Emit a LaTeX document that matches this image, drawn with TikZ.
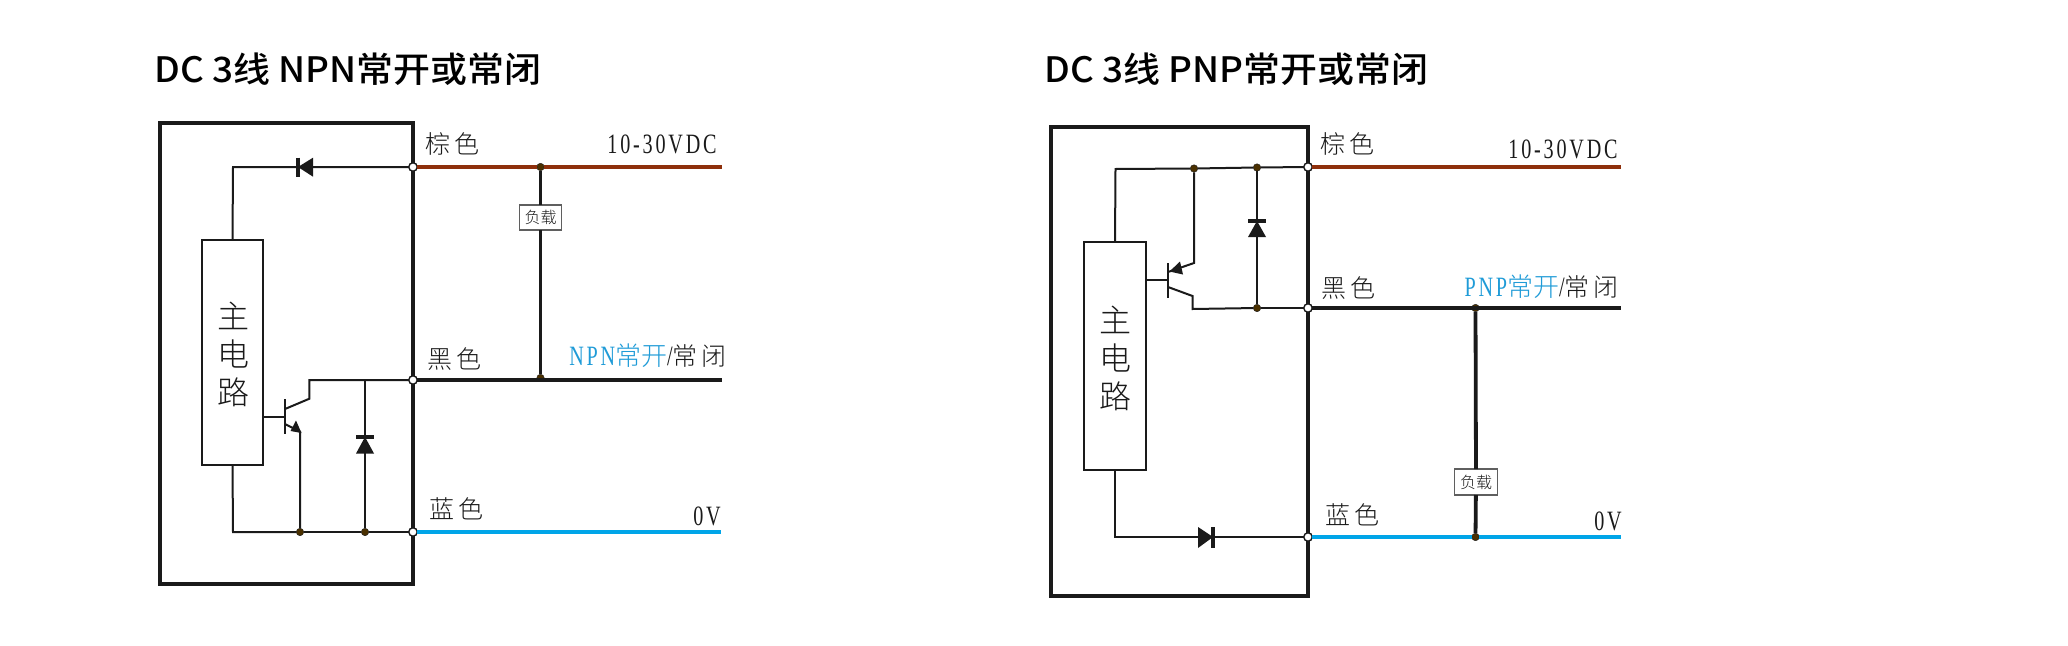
\documentclass[tikz,border=0pt]{standalone}
\usepackage{fontspec}
\newfontfamily\titlef[FakeStretch=1.055]{Noto Sans CJK SC Medium}
\newfontfamily\cjkf[LetterSpace=16]{Noto Sans CJK SC Light}
\newfontfamily\cjkb{Noto Sans CJK SC Light}
\newfontfamily\cjkt{Noto Sans CJK SC Light}
\newfontfamily\latf[FakeStretch=0.72,LetterSpace=10]{Liberation Serif}
\definecolor{brownw}{HTML}{8E2F0B}
\definecolor{bluew}{HTML}{00A5E8}
\definecolor{bluet}{HTML}{1F9BD7}
\definecolor{inkc}{HTML}{1A1A1A}
\definecolor{dotc}{HTML}{4A3000}
\tikzset{
  framebox/.style={draw=inkc,line width=3.8pt,anchor=north west,inner sep=0pt,outer sep=0pt},
  mainbox/.style={draw=inkc,line width=2pt,anchor=north west,inner sep=0pt,outer sep=0pt,fill=white},
  termnode/.style={circle,draw=inkc,fill=white,line width=1.4pt,minimum size=8.5pt,inner sep=0pt,outer sep=0pt},
  jnode/.style={circle,fill=dotc,draw=inkc,line width=0.4pt,minimum size=7.5pt,inner sep=0pt,outer sep=0pt},
  loadbox/.style={draw=inkc!70,line width=1.1pt,fill=white,inner sep=0pt,outer sep=0pt,font=\cjkt\fontsize{16}{16}\selectfont,text=inkc},
  thinw/.style={draw=inkc,line width=2pt},
  hwire/.style={line width=3.8pt},
  loadw/.style={draw=inkc,line width=3.8pt},
  dfill/.style={fill=inkc,draw=none},
  dbar/.style={draw=inkc,line width=3.2pt},
  titlet/.style={inner sep=0pt,anchor=west,font=\titlef\fontsize{35}{35}\selectfont,text=black},
  colt/.style={inner sep=0pt,font=\cjkf\fontsize{25}{25}\selectfont,text=inkc},
  numt/.style={inner sep=0pt,font=\latf\fontsize{28}{28}\selectfont,text=inkc},
  maint/.style={inner sep=0pt,align=center,font=\cjkb\fontsize{32}{38}\selectfont,text=inkc}
}
\begin{document}
\begin{tikzpicture}[x=1pt,y=-1pt]
\useasboundingbox (0,0) rectangle (2068,645);
%%% LEFT
\node[titlet] (t1) at (154,69) {DC 3线 NPN常开或常闭};
\node[framebox,minimum width=253pt,minimum height=461pt] (f1) at (160,123) {};
\node[mainbox,minimum width=61pt,minimum height=225pt] (m1) at (202,240) {};
\node[maint] (mt1) at (233,354) {主\\电\\路};
\node[termnode] (a1) at (413,167) {};
\node[termnode] (a2) at (413,380) {};
\node[termnode] (a3) at (413,532) {};
\node[jnode] (j1) at (540.5,167) {};
\node[jnode] (j2) at (540.5,378) {};
\node[jnode] (j3) at (300,532) {};
\node[jnode] (j4) at (365,532) {};
\coordinate (e1) at (722,167);
\coordinate (e2) at (722,380);
\coordinate (e3) at (721,532);
\node[loadbox,minimum width=42pt,minimum height=25pt] (l1) at (540.5,217.5) {负载};
\draw[hwire,draw=brownw] (a1) -- (j1);
\draw[hwire,draw=brownw] (j1) -- (e1);
\draw[hwire,draw=inkc] (a2) -- (e2);
\draw[hwire,draw=bluew] (a3) -- (e3);
\draw[loadw] (j1) -- (l1);
\draw[loadw] (l1) -- (j2);
% diode and wire to the main box
\coordinate (c1) at (233,167);
\draw[thinw] (m1.north) -- (c1) -- (a1);
\draw[dfill] (298,167) -- (313,157.7) -- (313,176.7) -- cycle;
\draw[dbar] (298,157.7) -- (298,176.7);
% transistor
\coordinate (b1) at (285,417);
\draw[thinw] (m1.east |- b1) -- (b1);
\draw[thinw,line width=2.2pt] (285,399) -- (285,434);
\coordinate (cb1) at (309.4,398.7);
\coordinate (ct1) at (309.4,380);
\draw[thinw] (285,409) -- (cb1) -- (ct1) -- (a2);
\coordinate (eb1) at (300,431.7);
\draw[thinw] (285,424) -- (eb1) -- (j3);
\draw[dfill] (301.5,433) -- (290.5,431) -- (296,420.5) -- cycle;
% flyback diode
\draw[thinw] (365,380) -- (j4);
\draw[dfill] (365,437) -- (374,453.5) -- (356,453.5) -- cycle;
\draw[dbar] (356,437) -- (374,437);
% bottom rail
\coordinate (c2) at (233,532);
\draw[thinw] (m1.south) -- (c2) -- (j3);
\draw[thinw] (j3) -- (j4);
\draw[thinw] (j4) -- (a3);
% labels
\node[colt] (n1) at (452,144) {棕色};
\node[colt] (n2) at (454,359) {黑色};
\node[colt] (n3) at (456,509) {蓝色};
\node[numt] (n4) at (662,144.5) {10-30VDC};
\node[numt] (n5) at (707,516) {0V};
\node[inner sep=0pt,anchor=east] (n6) at (727,356) {\latf\fontsize{28}{28}\selectfont\textcolor{bluet}{NPN}\cjkb\fontsize{26}{26}\selectfont\textcolor{bluet}{常开}\textcolor{inkc}{\latf\fontsize{28}{28}\selectfont/\cjkf\fontsize{25}{25}\selectfont 常闭}};
%%% RIGHT
\node[titlet] (t2) at (1044,69) {DC 3线 PNP常开或常闭};
\node[framebox,minimum width=257.4pt,minimum height=469pt] (f2) at (1050.6,127) {};
\node[mainbox,minimum width=62pt,minimum height=228pt] (m2) at (1084,242) {};
\node[maint] (mt2) at (1115,358) {主\\电\\路};
\node[termnode] (a4) at (1308,167) {};
\node[termnode] (a5) at (1308,308) {};
\node[termnode] (a6) at (1308,537) {};
\node[jnode] (j5) at (1194,168.5) {};
\node[jnode] (j6) at (1257,167.5) {};
\node[jnode] (j7) at (1257,308) {};
\node[jnode] (j8) at (1475.5,308) {};
\node[jnode] (j9) at (1475.5,537) {};
\coordinate (e4) at (1621,167);
\coordinate (e5) at (1621,308);
\coordinate (e6) at (1621,537);
\node[loadbox,minimum width=43pt,minimum height=26pt] (l2) at (1476,482) {负载};
\draw[hwire,draw=brownw] (a4) -- (e4);
\draw[hwire,draw=inkc] (a5) -- (e5);
\draw[hwire,draw=bluew] (a6) -- (j9);
\draw[hwire,draw=bluew] (j9) -- (e6);
\draw[loadw] (j8) -- (l2);
\draw[loadw] (l2) -- (j9);
% top rail
\coordinate (c3) at (1115.5,169);
\draw[thinw] (m2.north) -- (c3) -- (j5);
\draw[thinw] (j5) -- (j6);
\draw[thinw] (j6) -- (a4);
% transistor
\coordinate (b2) at (1168,280);
\draw[thinw] (m2.east |- b2) -- (b2);
\draw[thinw,line width=2.2pt] (1168,263) -- (1168,298);
\coordinate (eb2) at (1194,263);
\draw[thinw] (1168,272) -- (eb2) -- (j5);
\draw[dfill] (1169.5,271.5) -- (1180,261.5) -- (1183,274.5) -- cycle;
\coordinate (cb2) at (1192.5,296);
\coordinate (ct2) at (1192.5,309);
\draw[thinw] (1168,287) -- (cb2) -- (ct2) -- (j7);
\draw[thinw] (j7) -- (a5);
% flyback diode
\draw[thinw] (j6) -- (j7);
\draw[dfill] (1257,221) -- (1266,237) -- (1248,237) -- cycle;
\draw[dbar] (1248,221) -- (1266,221);
% bottom rail
\coordinate (c4) at (1115,537);
\draw[thinw] (m2.south) -- (c4) -- (a6);
\draw[dfill] (1213,537) -- (1198,527) -- (1198,548) -- cycle;
\draw[dbar] (1213,527) -- (1213,548);
% labels
\node[colt] (n7) at (1347.5,144) {棕色};
\node[colt] (n8) at (1348,288) {黑色};
\node[colt] (n9) at (1352,515) {蓝色};
\node[numt] (n10) at (1563,149.5) {10-30VDC};
\node[numt] (n11) at (1608,521) {0V};
\node[inner sep=0pt,anchor=east] (n12) at (1619,287) {\latf\fontsize{28}{28}\selectfont\textcolor{bluet}{PNP}\cjkb\fontsize{26}{26}\selectfont\textcolor{bluet}{常开}\textcolor{inkc}{\latf\fontsize{28}{28}\selectfont/\cjkf\fontsize{25}{25}\selectfont 常闭}};
\end{tikzpicture}
\end{document}
